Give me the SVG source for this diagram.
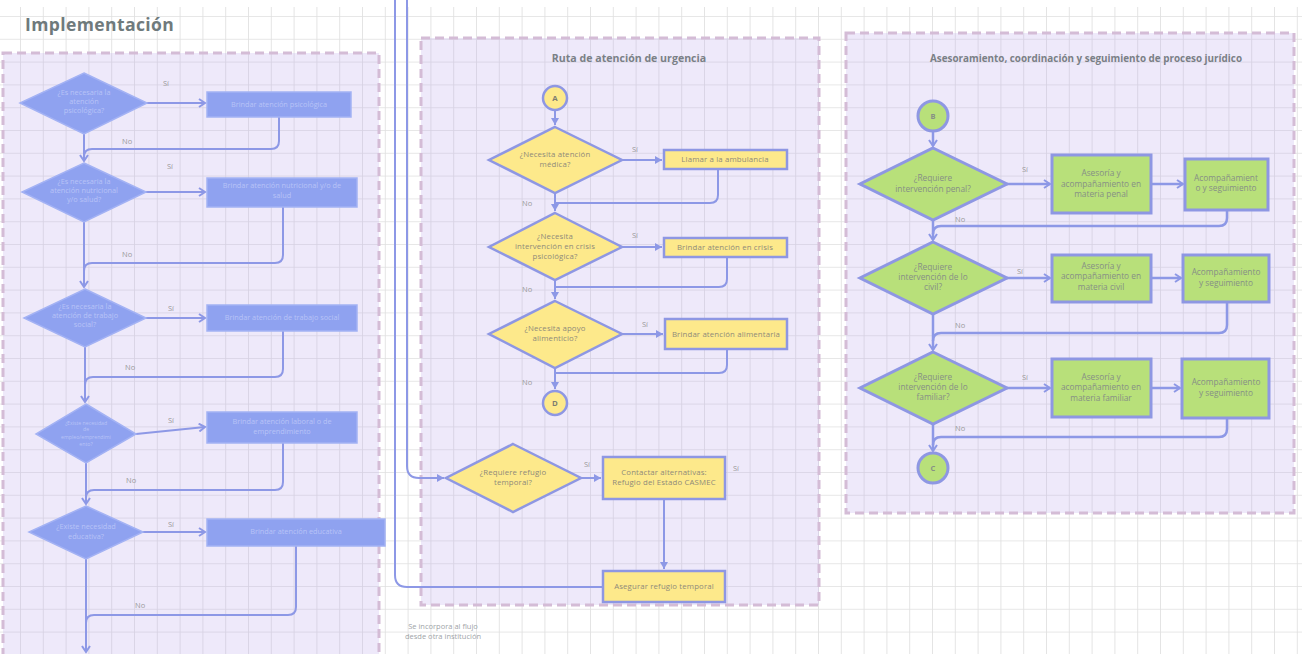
<svg xmlns="http://www.w3.org/2000/svg" width="1302" height="654" viewBox="0 0 1302 654">
  <style>
    .panel { fill: rgba(190,170,235,0.26); stroke: #d4bcd6; stroke-width: 3; stroke-dasharray: 9 5; }
    .conn { fill: none; stroke: #8d98e6; stroke-width: 2; stroke-linejoin: round; }
    .conn-r { fill: none; stroke: #8d98e6; stroke-width: 2.5; stroke-linejoin: round; }
    .blue { fill: #8fa2f0; stroke: #a3b2f4; stroke-width: 1.5; }
    .blue-t { font-family: "Open Sans", "Liberation Sans", sans-serif; font-size: 7.3px; fill: #b8c3f7; text-anchor: middle; }
    .yel { fill: #fde98b; stroke: #8e97e3; stroke-width: 2.5; }
    .yel-t { font-family: "Open Sans", "Liberation Sans", sans-serif; font-size: 7.8px; fill: #8f8a7a; text-anchor: middle; letter-spacing: 0.15px; }
    .grn { fill: #b8e07a; stroke: #8e97e3; stroke-width: 3; }
    .grn-t { font-family: "Open Sans", "Liberation Sans", sans-serif; font-size: 8.3px; fill: #868f86; text-anchor: middle; }
    .lbl { font-family: "Open Sans", "Liberation Sans", sans-serif; font-size: 7.5px; fill: #9a9a9a; }
    .ptitle { font-family: "Open Sans", "Liberation Sans", sans-serif; font-size: 10.6px; font-weight: bold; fill: #7a8086; text-anchor: middle; }
  </style>
  <defs>
    <pattern id="grid" patternUnits="userSpaceOnUse" x="20" y="16" width="22.8" height="22.8">
      <path d="M0,0 H22.8 M0,0 V22.8" fill="none" stroke="#e0e0e0" stroke-width="1.7"/>
    </pattern>
    <marker id="chev" markerUnits="userSpaceOnUse" markerWidth="10" markerHeight="10" refX="7" refY="5" orient="auto">
      <path d="M1,1 L7,5 L1,9" fill="none" stroke="#8d98e6" stroke-width="2"/>
    </marker>
    <marker id="tri" markerUnits="userSpaceOnUse" markerWidth="9" markerHeight="9" refX="7" refY="4" orient="auto">
      <path d="M0,0 L7,4 L0,8 z" fill="#8d98e6"/>
    </marker>
  </defs>

  <!-- canvas and grid -->
  <rect width="1302" height="654" fill="#ffffff"/>
  <rect y="7" width="1302" height="647" fill="url(#grid)"/>

  <!-- swimlane panels -->
  <rect class="panel" x="3" y="53" width="376" height="640"/>
  <rect class="panel" x="421" y="38" width="398" height="567"/>
  <rect class="panel" x="846" y="33" width="448" height="480"/>

  <text x="25" y="31" font-family="Open Sans, Liberation Sans, sans-serif" font-size="17.5" font-weight="bold" fill="#6f7a7c" letter-spacing="0.4">Implementación</text>
  <text class="ptitle" x="629" y="62">Ruta de atención de urgencia</text>
  <text class="ptitle" x="1086" y="62" style="font-size:9.9px">Asesoramiento, coordinación y seguimiento de proceso jurídico</text>

  <!-- connectors -->
  <g id="connectors">
    <!-- Implementación -->
    <path class="conn" d="M147,103 H205" marker-end="url(#chev)"/>
    <path class="conn" d="M279,117 V141 Q279,149 271,149 H92 Q84,149 84,157"/>
    <path class="conn" d="M84,134 V161" marker-end="url(#chev)"/>
    <path class="conn" d="M146,192 H205" marker-end="url(#chev)"/>
    <path class="conn" d="M283,207 V255 Q283,263 275,263 H92 Q84,263 84,271"/>
    <path class="conn" d="M84,222 V287" marker-end="url(#chev)"/>
    <path class="conn" d="M146,318 H205" marker-end="url(#chev)"/>
    <path class="conn" d="M283,331 V369 Q283,377 275,377 H93 Q85,377 85,385"/>
    <path class="conn" d="M85,347 V402" marker-end="url(#chev)"/>
    <path class="conn" d="M136,434 L205,427" marker-end="url(#chev)"/>
    <path class="conn" d="M283,443 V482 Q283,490 275,490 H94 Q86,490 86,498"/>
    <path class="conn" d="M86,463 V504" marker-end="url(#chev)"/>
    <path class="conn" d="M143,532 H205" marker-end="url(#chev)"/>
    <path class="conn" d="M296,546 V607 Q296,615 288,615 H94 Q86,615 86,623"/>
    <path class="conn" d="M86,559 V652" marker-end="url(#chev)"/>

    <!-- Ruta de atención de urgencia -->
    <path class="conn" d="M555,110 V125" marker-end="url(#tri)"/>
    <path class="conn" d="M622,160 H662" marker-end="url(#tri)"/>
    <path class="conn" d="M718,169 V195 Q718,203 710,203 H555"/>
    <path class="conn" d="M555,193 V211" marker-end="url(#tri)"/>
    <path class="conn" d="M622,247 H662" marker-end="url(#tri)"/>
    <path class="conn" d="M727,257 V279 Q727,287 719,287 H555"/>
    <path class="conn" d="M555,280 V299" marker-end="url(#tri)"/>
    <path class="conn" d="M622,334 H663" marker-end="url(#tri)"/>
    <path class="conn" d="M727,349 V365 Q727,373 719,373 H555"/>
    <path class="conn" d="M555,368 V389" marker-end="url(#tri)"/>
    <path class="conn" d="M407,0 V466 Q407,478 419,478 H444" marker-end="url(#tri)"/>
    <path class="conn" d="M581,478 H601" marker-end="url(#tri)"/>
    <path class="conn" d="M664,499 V569" marker-end="url(#tri)"/>
    <path class="conn" d="M603,587 H407 Q395,587 395,575 V0"/>

    <!-- Proceso jurídico -->
    <path class="conn-r" d="M933,131 V146" marker-end="url(#chev)"/>
    <path class="conn-r" d="M1007,184 H1050" marker-end="url(#chev)"/>
    <path class="conn-r" d="M1151,184 H1183" marker-end="url(#chev)"/>
    <path class="conn-r" d="M1227,210 V218 Q1227,226 1219,226 H941 Q933,226 933,234"/>
    <path class="conn-r" d="M933,220 V240" marker-end="url(#chev)"/>
    <path class="conn-r" d="M1007,278 H1050" marker-end="url(#chev)"/>
    <path class="conn-r" d="M1151,278 H1181" marker-end="url(#chev)"/>
    <path class="conn-r" d="M1227,302 V325 Q1227,333 1219,333 H941 Q933,333 933,341"/>
    <path class="conn-r" d="M933,314 V350" marker-end="url(#chev)"/>
    <path class="conn-r" d="M1007,388 H1050" marker-end="url(#chev)"/>
    <path class="conn-r" d="M1151,388 H1180" marker-end="url(#chev)"/>
    <path class="conn-r" d="M1227,418 V429 Q1227,437 1219,437 H941 Q933,437 933,445"/>
    <path class="conn-r" d="M933,424 V451" marker-end="url(#chev)"/>

    <!-- branch labels -->
    <g class="lbl">
      <text x="163" y="86">Sí</text>
      <text x="122" y="144">No</text>
      <text x="167" y="169">Sí</text>
      <text x="122" y="257">No</text>
      <text x="168" y="311">Sí</text>
      <text x="125" y="370">No</text>
      <text x="168" y="423">Sí</text>
      <text x="126" y="483">No</text>
      <text x="168" y="527">Sí</text>
      <text x="135" y="608">No</text>

      <text x="632" y="152">Sí</text>
      <text x="522" y="206">No</text>
      <text x="632" y="238">Sí</text>
      <text x="522" y="292">No</text>
      <text x="642" y="327">Sí</text>
      <text x="522" y="385">No</text>
      <text x="584" y="467">Sí</text>
      <text x="733" y="471">Sí</text>

      <text x="1022" y="172">Sí</text>
      <text x="955" y="222">No</text>
      <text x="1017" y="274">Sí</text>
      <text x="955" y="328">No</text>
      <text x="1022" y="380">Sí</text>
      <text x="955" y="431">No</text>

      <text x="443" y="629" text-anchor="middle" fill="#a0a4a8">Se incorpora al flujo</text>
      <text x="443" y="639" text-anchor="middle" fill="#a0a4a8">desde otra institución</text>
    </g>
  </g>

  <!-- Implementación nodes -->
  <g id="q-psicologica">
    <polygon class="blue" points="84,73 147,103 84,134 20,103"/>
    <text class="blue-t" x="84" y="95">¿Es necesaria la</text>
    <text class="blue-t" x="84" y="104">atención</text>
    <text class="blue-t" x="84" y="113">psicológica?</text>
  </g>
  <g id="b-psicologica">
    <rect class="blue" x="207" y="92" width="144" height="25"/>
    <text class="blue-t" x="279" y="107">Brindar atención psicológica</text>
  </g>
  <g id="q-nutricional">
    <polygon class="blue" points="84,163 146,192 84,222 22,192"/>
    <text class="blue-t" x="84" y="184">¿Es necesaria la</text>
    <text class="blue-t" x="84" y="193">atención nutricional</text>
    <text class="blue-t" x="84" y="202">y/o salud?</text>
  </g>
  <g id="b-nutricional">
    <rect class="blue" x="207" y="178" width="150" height="29"/>
    <text class="blue-t" x="282" y="188">Brindar atención nutricional y/o de</text>
    <text class="blue-t" x="282" y="198">salud</text>
  </g>
  <g id="q-social">
    <polygon class="blue" points="85,289 146,318 85,347 24,318"/>
    <text class="blue-t" x="85" y="309">¿Es necesaria la</text>
    <text class="blue-t" x="85" y="318">atención de trabajo</text>
    <text class="blue-t" x="85" y="327">social?</text>
  </g>
  <g id="b-social">
    <rect class="blue" x="207" y="305" width="150" height="26"/>
    <text class="blue-t" x="282" y="320">Brindar atención de trabajo social</text>
  </g>
  <g id="q-empleo">
    <polygon class="blue" points="86,404 136,434 86,463 36,434"/>
    <text class="blue-t" x="86" y="425" style="font-size:5.2px">¿Existe necesidad</text>
    <text class="blue-t" x="86" y="431" style="font-size:5.2px">de</text>
    <text class="blue-t" x="86" y="439" style="font-size:5.2px">empleo/emprendimi</text>
    <text class="blue-t" x="86" y="446" style="font-size:5.2px">ento?</text>
  </g>
  <g id="b-empleo">
    <rect class="blue" x="207" y="412" width="150" height="31"/>
    <text class="blue-t" x="282" y="424">Brindar atención laboral o de</text>
    <text class="blue-t" x="282" y="434">emprendimiento</text>
  </g>
  <g id="q-educativa">
    <polygon class="blue" points="86,506 143,532 86,559 29,532"/>
    <text class="blue-t" x="86" y="529">¿Existe necesidad</text>
    <text class="blue-t" x="86" y="539">educativa?</text>
  </g>
  <g id="b-educativa">
    <rect class="blue" x="207" y="519" width="178" height="27"/>
    <text class="blue-t" x="296" y="534">Brindar atención educativa</text>
  </g>

  <!-- Ruta de atención de urgencia nodes -->
  <g id="c-a">
    <circle class="yel" cx="555" cy="98" r="12"/>
    <text class="yel-t" x="555" y="101" style="font-weight:bold;fill:#7d7d70">A</text>
  </g>
  <g id="q-medica">
    <polygon class="yel" points="555,127 622,160 555,193 489,160"/>
    <text class="yel-t" x="555" y="157">¿Necesita atención</text>
    <text class="yel-t" x="555" y="167">médica?</text>
  </g>
  <g id="b-ambulancia">
    <rect class="yel" x="664" y="150" width="123" height="19"/>
    <text class="yel-t" x="725" y="162">Llamar a la ambulancia</text>
  </g>
  <g id="q-crisis">
    <polygon class="yel" points="555,213 622,247 555,280 489,247"/>
    <text class="yel-t" x="555" y="239">¿Necesita</text>
    <text class="yel-t" x="555" y="249">intervención en crisis</text>
    <text class="yel-t" x="555" y="259">psicológica?</text>
  </g>
  <g id="b-crisis">
    <rect class="yel" x="664" y="238" width="123" height="19"/>
    <text class="yel-t" x="725" y="250">Brindar atención en crisis</text>
  </g>
  <g id="q-alimenticio">
    <polygon class="yel" points="555,301 622,334 555,368 489,334"/>
    <text class="yel-t" x="555" y="331">¿Necesita apoyo</text>
    <text class="yel-t" x="555" y="341">alimenticio?</text>
  </g>
  <g id="b-alimentaria">
    <rect class="yel" x="665" y="319" width="122" height="30"/>
    <text class="yel-t" x="726" y="337">Brindar atención alimentaria</text>
  </g>
  <g id="c-d">
    <circle class="yel" cx="555" cy="403" r="12"/>
    <text class="yel-t" x="555" y="406" style="font-weight:bold;fill:#7d7d70">D</text>
  </g>
  <g id="q-refugio">
    <polygon class="yel" points="513,444 581,478 513,512 446,478"/>
    <text class="yel-t" x="513" y="475">¿Requiere refugio</text>
    <text class="yel-t" x="513" y="485">temporal?</text>
  </g>
  <g id="b-casmec">
    <rect class="yel" x="603" y="457" width="122" height="42"/>
    <text class="yel-t" x="664" y="475">Contactar alternativas:</text>
    <text class="yel-t" x="664" y="485">Refugio del Estado CASMEC</text>
  </g>
  <g id="b-asegurar">
    <rect class="yel" x="603" y="571" width="122" height="31"/>
    <text class="yel-t" x="664" y="589">Asegurar refugio temporal</text>
  </g>

  <!-- Proceso jurídico nodes -->
  <g id="c-b">
    <circle class="grn" cx="933" cy="116" r="15"/>
    <text class="grn-t" x="933" y="119" style="font-weight:bold;font-size:7.5px">B</text>
  </g>
  <g id="q-penal">
    <polygon class="grn" points="933,148 1007,184 933,220 860,184"/>
    <text class="grn-t" x="933" y="181">¿Requiere</text>
    <text class="grn-t" x="933" y="192">intervención penal?</text>
  </g>
  <g id="b-penal">
    <rect class="grn" x="1052" y="155" width="99" height="58"/>
    <text class="grn-t" x="1101" y="176">Asesoría y</text>
    <text class="grn-t" x="1101" y="187">acompañamiento en</text>
    <text class="grn-t" x="1101" y="197">materia penal</text>
  </g>
  <g id="s-penal">
    <rect class="grn" x="1185" y="159" width="83" height="51"/>
    <text class="grn-t" x="1226" y="181">Acompañamient</text>
    <text class="grn-t" x="1226" y="191">o y seguimiento</text>
  </g>
  <g id="q-civil">
    <polygon class="grn" points="933,242 1007,278 933,314 860,278"/>
    <text class="grn-t" x="933" y="270">¿Requiere</text>
    <text class="grn-t" x="933" y="280">intervención de lo</text>
    <text class="grn-t" x="933" y="290">civil?</text>
  </g>
  <g id="b-civil">
    <rect class="grn" x="1052" y="255" width="99" height="47"/>
    <text class="grn-t" x="1101" y="269">Asesoría y</text>
    <text class="grn-t" x="1101" y="279">acompañamiento en</text>
    <text class="grn-t" x="1101" y="290">materia civil</text>
  </g>
  <g id="s-civil">
    <rect class="grn" x="1183" y="255" width="86" height="47"/>
    <text class="grn-t" x="1226" y="275">Acompañamiento</text>
    <text class="grn-t" x="1226" y="286">y seguimiento</text>
  </g>
  <g id="q-familiar">
    <polygon class="grn" points="933,352 1007,388 933,424 860,388"/>
    <text class="grn-t" x="933" y="380">¿Requiere</text>
    <text class="grn-t" x="933" y="390">intervención de lo</text>
    <text class="grn-t" x="933" y="400">familiar?</text>
  </g>
  <g id="b-familiar">
    <rect class="grn" x="1052" y="359" width="99" height="58"/>
    <text class="grn-t" x="1101" y="380">Asesoría y</text>
    <text class="grn-t" x="1101" y="390">acompañamiento en</text>
    <text class="grn-t" x="1101" y="401">materia familiar</text>
  </g>
  <g id="s-familiar">
    <rect class="grn" x="1182" y="359" width="87" height="59"/>
    <text class="grn-t" x="1226" y="385">Acompañamiento</text>
    <text class="grn-t" x="1226" y="396">y seguimiento</text>
  </g>
  <g id="c-c">
    <circle class="grn" cx="933" cy="468" r="15"/>
    <text class="grn-t" x="933" y="471" style="font-weight:bold;font-size:7.5px">C</text>
  </g>
</svg>
